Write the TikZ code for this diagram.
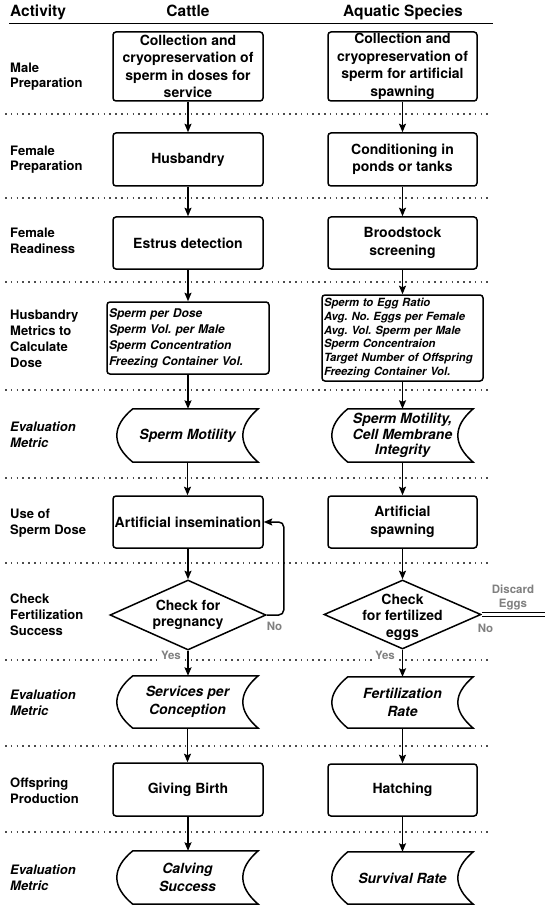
\documentclass[tikz,border=0pt]{standalone}
\usepackage{fontspec}
\setmainfont{TeX Gyre Heros}
\usetikzlibrary{shapes.geometric,arrows.meta,calc}
\definecolor{lblgray}{RGB}{128,128,128}
\frenchspacing
\tikzset{
  boxline/.style={line width=1.5pt, draw=black},
  procbox/.style={draw, boxline, rounded corners=3pt, minimum width=150pt, inner sep=1pt, align=center, font=\bfseries\fontsize{14}{17.5}\selectfont},
  metricbox/.style={draw, boxline, rounded corners=3pt, inner sep=2pt, align=left, font=\bfseries\itshape\fontsize{12}{16}\selectfont},
  evalnode/.style={rectangle, minimum width=141pt, inner sep=0pt, align=center, font=\bfseries\itshape\fontsize{14}{17.5}\selectfont},
  decision/.style={diamond, draw, boxline, minimum width=156pt, minimum height=70pt, inner sep=0pt},
  dectext/.style={align=center, inner sep=0pt, font=\bfseries\fontsize{14}{16.5}\selectfont},
  rowlabel/.style={anchor=base west, align=left, inner sep=0pt, font=\bfseries\fontsize{13}{15.7}\selectfont},
  evallabel/.style={anchor=base west, align=left, inner sep=0pt, font=\bfseries\itshape\fontsize{13}{15.7}\selectfont},
  header/.style={inner sep=0pt, anchor=base, font=\bfseries\fontsize{15.5}{18}\selectfont},
  graylabel/.style={text=lblgray, font=\bfseries\fontsize{11.5}{14}\selectfont, inner sep=1.5pt, align=center, anchor=base},
  arr/.style={line width=1.5pt, -{Stealth[length=8.5pt,width=7pt,inset=1.5pt]}},
  rowsep/.style={line width=1.5pt, black!70, dash pattern=on 1.5pt off 4.3pt},
}
\newcommand\storedshape[1]{%
  \draw[boxline] ($(#1.north west)+(16,0)$) -- (#1.north east)
    .. controls ($(#1.north east)+(-20.5,17.5)$) and ($(#1.south east)+(-20.5,-17.5)$) .. (#1.south east)
    -- ($(#1.south west)+(16,0)$)
    .. controls ($(#1.south west)+(-5.3,-17.5)$) and ($(#1.north west)+(-5.3,17.5)$) .. cycle;}
\begin{document}
\begin{tikzpicture}[x=1pt,y=-1pt]
\fill[white] (0,0) rectangle (550,909);
\useasboundingbox (0,0) rectangle (550,909);

% separators
\foreach \yy in {114,198,282,390,478,563,660,746,832}
  \draw[rowsep] (5,\yy) -- (491,\yy);
\coordinate (hl) at (9,23.5);
\coordinate (hr) at (493,23.5);
\draw[line width=1.5pt] (hl) -- (hr);

% headers
\node[header, anchor=base west] (hact) at (10,17) {Activity};
\node[header] (hcat) at (188,17) {Cattle};
\node[header] (haq) at (403,17) {Aquatic Species};

% row labels (positioned at the baseline of the last line)
\node[rowlabel] (l1) at (10,88) {Male\\Preparation};
\node[rowlabel] (l2) at (10,171) {Female\\Preparation};
\node[rowlabel] (l3) at (10,253) {Female\\Readiness};
\node[rowlabel, font=\bfseries\fontsize{13}{16}\selectfont] (l4) at (10,367) {Husbandry\\Metrics to\\Calculate\\Dose};
\node[evallabel] (l5) at (10,447) {Evaluation\\Metric};
\node[rowlabel] (l6) at (10,534) {Use of\\Sperm Dose};
\node[rowlabel] (l7) at (10,635) {Check\\Fertilization\\Success};
\node[evallabel] (l8) at (10,715) {Evaluation\\Metric};
\node[rowlabel] (l9) at (10,803) {Offspring\\Production};
\node[evallabel] (l10) at (10,890) {Evaluation\\Metric};

% cattle column
\node[procbox, minimum height=69pt] (c1) at (188,66.5) {Collection and\\cryopreservation of\\sperm in doses for\\service};
\node[procbox, minimum height=53pt] (c2) at (188,159.5) {Husbandry};
\node[procbox, minimum height=52pt] (c3) at (188,243) {Estrus detection};
\node[metricbox, text width=158pt, minimum height=72pt] (c4) at (188,338) {Sperm per Dose\\Sperm Vol. per Male\\Sperm Concentration\\Freezing Container Vol.};
\node[evalnode, minimum height=53pt] (c5) at (187.5,435.5) {Sperm Motility};
\node[procbox, minimum height=52pt] (c6) at (188,522) {Artificial insemination};
\node[decision] (c7) at (188,615) {};
\node[dectext] (c7t) at (188,615) {Check for\\pregnancy};
\node[evalnode, minimum height=52pt] (c8) at (187.5,702) {Services per\\Conception};
\node[procbox, minimum height=53pt] (c9) at (188,789.5) {Giving Birth};
\node[evalnode, minimum height=53pt] (c10) at (187.5,877.5) {Calving\\Success};

% aquatic column
\node[procbox, minimum width=149pt, minimum height=69pt] (a1) at (402.5,66.5) {Collection and\\cryopreservation of\\sperm for artificial\\spawning};
\node[procbox, minimum width=149pt, minimum height=53pt] (a2) at (402.5,159.5) {Conditioning in\\ponds or tanks};
\node[procbox, minimum width=149pt, minimum height=52pt] (a3) at (402.5,243) {Broodstock\\screening};
\node[metricbox, text width=157pt, minimum height=86pt, font=\bfseries\itshape\fontsize{11.3}{13.7}\selectfont] (a4) at (402.5,338) {Sperm to Egg Ratio\\Avg. No. Eggs per Female\\Avg. Vol. Sperm per Male\\Sperm Concentraion\\Target Number of Offspring\\Freezing Container Vol.};
\node[evalnode, minimum height=53pt, font=\bfseries\itshape\fontsize{14}{15.5}\selectfont] (a5) at (402.5,435.5) {Sperm Motility,\\Cell Membrane\\Integrity};
\node[procbox, minimum width=149pt, minimum height=52pt] (a6) at (402.5,522) {Artificial\\spawning};
\node[decision, minimum width=157pt, minimum height=69pt] (a7) at (402.5,614.5) {};
\node[dectext] (a7t) at (402.5,617) {Check\\for fertilized\\eggs};
\node[evalnode, minimum height=51pt] (a8) at (402.5,702.5) {Fertilization\\Rate};
\node[procbox, minimum width=149pt, minimum height=52pt] (a9) at (402.5,790) {Hatching};
\node[evalnode, minimum height=52pt] (a10) at (402.5,878) {Survival Rate};

% stored-data outlines
\storedshape{c5}\storedshape{c8}\storedshape{c10}
\storedshape{a5}\storedshape{a8}\storedshape{a10}

% vertical flow
\foreach \p/\q in {c1/c2,c2/c3,c3/c4,c4/c5,c5/c6,c6/c7,c7/c8,c8/c9,c9/c10}
  \draw[arr] (\p.south) -- (\p.south |- \q.north);
\foreach \p/\q in {a1/a2,a2/a3,a3/a4,a4/a5,a5/a6,a6/a7,a7/a8,a8/a9,a9/a10}
  \draw[arr] (\p.south) -- (\p.south |- \q.north);

% loop back
\draw[arr, rounded corners=5pt] (c7.east) -- ++(17,0) |- (c6.east);

% discard
\coordinate (dend) at (545,614.5);
\draw[line width=1.2pt, double, double distance=2.6pt] (a7.east) -- (dend);

% labels
\node[graylabel, fill=white] (yc) at (171,659.5) {Yes};
\node[graylabel, fill=white] (ya) at (385,659.5) {Yes};
\node[graylabel] (nc) at (274.5,630) {No};
\node[graylabel] (na) at (485.5,632) {No};
\node[graylabel] (disc) at (513,607) {Discard\\Eggs};
\end{tikzpicture}
\end{document}
